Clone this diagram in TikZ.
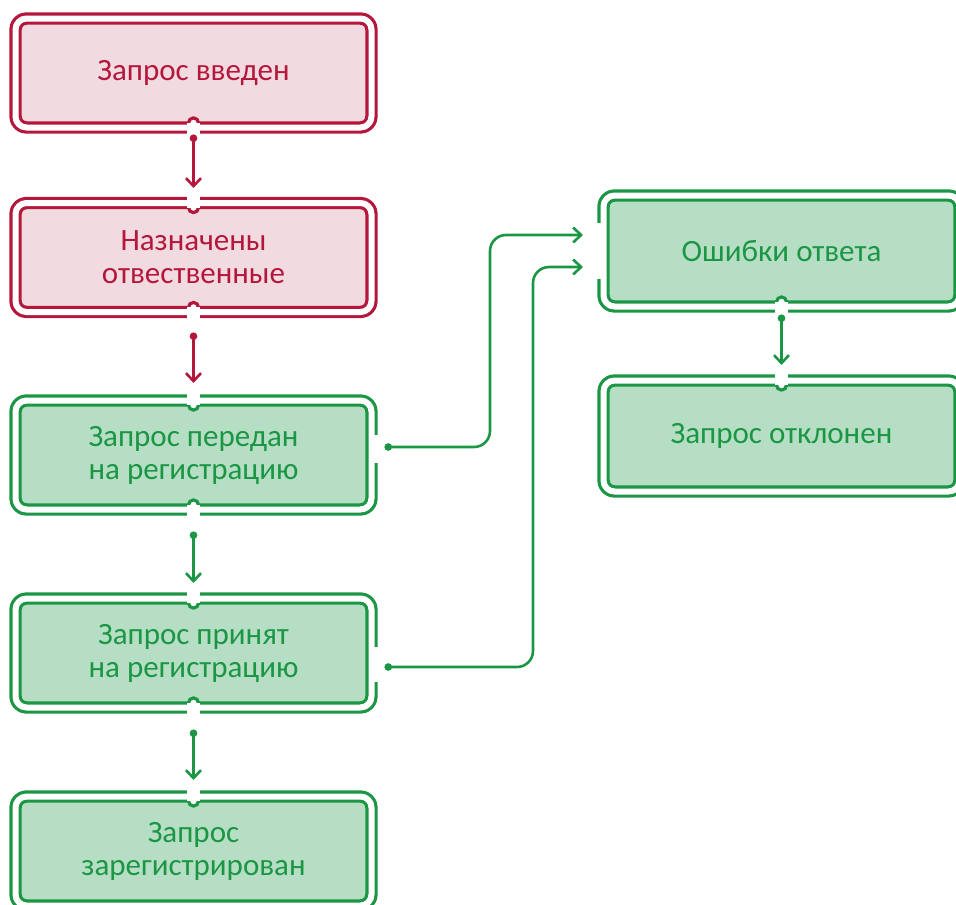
\documentclass[tikz,border=0pt]{standalone}
\usepackage{fontspec}
\setmainfont{Carlito}
\usetikzlibrary{arrows.meta}
\definecolor{cred}{HTML}{B5173C}
\definecolor{cpink}{HTML}{F1DAE0}
\definecolor{cgreen}{HTML}{1B9644}
\definecolor{clight}{HTML}{B6DEC4}
\begin{document}
\begin{tikzpicture}[x=1pt, y=-1pt, line join=round,
	box/.style={draw, double=white, double distance=6pt, line width=3.2pt, rounded corners=11pt,
		minimum width=356pt, minimum height=109pt, inner sep=0pt, outer sep=0pt, align=center,
		font=\fontsize{31}{33}\selectfont},
	redbox/.style={box, draw=cred, fill=cpink, text=cred},
	greenbox/.style={box, draw=cgreen, fill=clight, text=cgreen},
	conn/.style={line width=2.6pt, {Circle[length=7.5pt]}-{Straight Barb[length=8pt,width=15pt,line width=2.6pt]}},
	gap/.style={fill=white}]
		\clip (0,0) rectangle (956,905);
		% left column
		\node[redbox] (b1) at (193.5,73) {Запрос введен};
		\node[redbox] (b2) at (193.5,257.5) {Назначены\\отвественные};
		\node[greenbox] (b3) at (193.5,455) {Запрос передан\\на регистрацию};
		\node[greenbox] (b4) at (193.5,653) {Запрос принят\\на регистрацию};
		\node[greenbox] (b5) at (193.5,851) {Запрос\\зарегистрирован};
		% right column
		\node[greenbox, minimum height=111pt] (r1) at (781.5,251) {Ошибки ответа};
		\node[greenbox, minimum height=111pt] (r2) at (781.5,436) {Запрос отклонен};
		% notches and gaps
		\foreach \n/\c in {b1/cred, b2/cred, b3/cgreen, b4/cgreen, r1/cgreen}{
			\filldraw[draw=\c, fill=white, line width=3.2pt] ([yshift=4.6pt]\n.south) circle (5pt);
			\fill[gap] ([xshift=-6.6pt,yshift=4.6pt]\n.south) rectangle ([xshift=6.6pt,yshift=-8pt]\n.south);
		}
		\foreach \n/\c in {b2/cred, b3/cgreen, b4/cgreen, b5/cgreen, r2/cgreen}{
			\filldraw[draw=\c, fill=white, line width=3.2pt] ([yshift=-4.6pt]\n.north) circle (5pt);
			\fill[gap] ([xshift=-6.6pt,yshift=-4.6pt]\n.north) rectangle ([xshift=6.6pt,yshift=8pt]\n.north);
		}
		\fill[gap] ([xshift=1.5pt,yshift=20pt]b3.east) rectangle ([xshift=8pt,yshift=-8pt]b3.east);
		\fill[gap] ([xshift=1.5pt,yshift=6pt]b4.east) rectangle ([xshift=8pt,yshift=-29pt]b4.east);
		\fill[gap] ([xshift=-8pt,yshift=28pt]r1.west) rectangle ([xshift=-1.5pt,yshift=-28pt]r1.west);
		% arrows
		\draw[conn, cred] ([yshift=-7pt]b1.south) -- ([yshift=15pt]b2.north);
		\draw[conn, cred] ([yshift=-20.5pt]b2.south) -- ([yshift=17.5pt]b3.north);
		\draw[conn, cgreen] ([yshift=-22pt]b3.south) -- ([yshift=15.5pt]b4.north);
		\draw[conn, cgreen] ([yshift=-22pt]b4.south) -- ([yshift=16.5pt]b5.north);
		\draw[conn, cgreen] ([yshift=-8pt]r1.south) -- ([yshift=15.5pt]r2.north);
		\coordinate (t1) at ([xshift=-20.5pt,yshift=16pt]r1.west);
		\coordinate (t2) at ([xshift=-20.5pt,yshift=-16pt]r1.west);
		\draw[conn, cgreen, rounded corners=16pt] ([xshift=13pt,yshift=8pt]b3.east) -| ([xshift=-93pt]t1) -- (t1);
		\draw[conn, cgreen, rounded corners=16pt] ([xshift=13pt,yshift=-14pt]b4.east) -| ([xshift=-50pt]t2) -- (t2);
\end{tikzpicture}
\end{document}
